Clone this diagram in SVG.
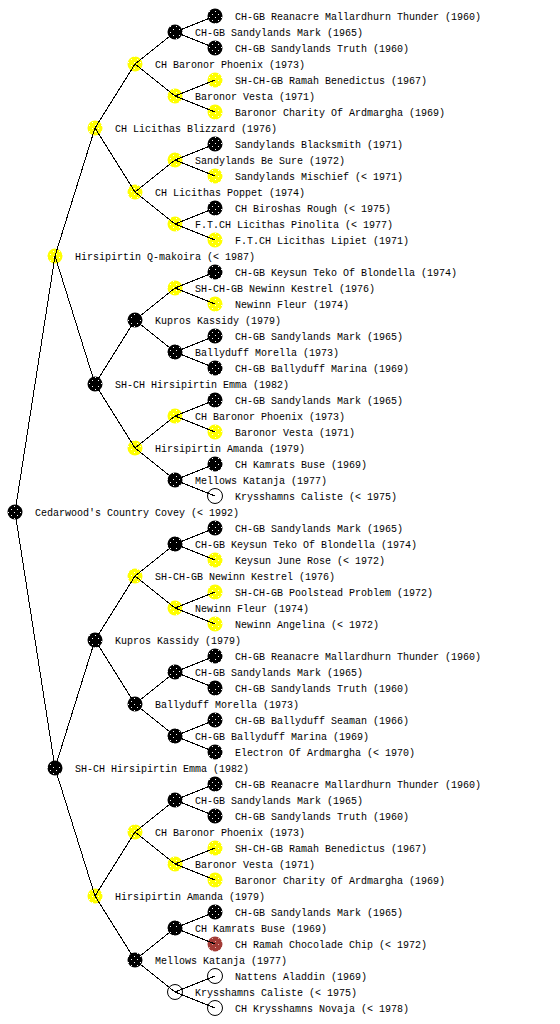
<svg xmlns="http://www.w3.org/2000/svg" width="560" height="1024" viewBox="0 0 560 1024">
<style>
text{font-family:"Liberation Mono","DejaVu Sans Mono",monospace;font-size:10px;fill:#000}
.b{fill:url(#pb)}
.y{fill:url(#py)}
.r{fill:url(#pr)}
.w{fill:#fff;stroke:#000;stroke-width:1}
#connectors path{fill:none;stroke:#000;stroke-width:1;shape-rendering:crispEdges}
</style>
<defs>
<pattern id="pb" patternUnits="userSpaceOnUse" width="6" height="6"><rect width="6" height="6" fill="#000"/><rect x="2" y="2" width="1" height="1" fill="#fff"/><rect x="5" y="5" width="1" height="1" fill="#fff"/></pattern>
<pattern id="py" patternUnits="userSpaceOnUse" width="6" height="6"><rect width="6" height="6" fill="#ff0"/><rect x="2" y="2" width="1" height="1" fill="#fff"/><rect x="5" y="5" width="1" height="1" fill="#fff"/></pattern>
<pattern id="pr" patternUnits="userSpaceOnUse" width="6" height="6"><rect width="6" height="6" fill="#a33b36"/><rect x="2" y="2" width="1" height="1" fill="#e0b0a8"/><rect x="5" y="5" width="1" height="1" fill="#e0b0a8"/></pattern>
</defs>
<rect width="560" height="1024" fill="#fff"/>
<g id="nodes">
<g id="n0"><circle class="b" cx="15" cy="512" r="7.5"/><text x="35" y="516">Cedarwood's Country Covey (&lt; 1992)</text></g>
<g id="n1"><circle class="y" cx="55" cy="256" r="7.5"/><text x="75" y="260">Hirsipirtin Q-makoira (&lt; 1987)</text></g>
<g id="n2"><circle class="y" cx="95" cy="128" r="7.5"/><text x="115" y="132">CH Licithas Blizzard (1976)</text></g>
<g id="n3"><circle class="y" cx="135" cy="64" r="7.5"/><text x="155" y="68">CH Baronor Phoenix (1973)</text></g>
<g id="n4"><circle class="b" cx="175" cy="32" r="7.5"/><text x="195" y="36">CH-GB Sandylands Mark (1965)</text></g>
<g id="n5"><circle class="b" cx="215" cy="16" r="7.5"/><text x="235" y="20">CH-GB Reanacre Mallardhurn Thunder (1960)</text></g>
<g id="n6"><circle class="b" cx="215" cy="48" r="7.5"/><text x="235" y="52">CH-GB Sandylands Truth (1960)</text></g>
<g id="n7"><circle class="y" cx="175" cy="96" r="7.5"/><text x="195" y="100">Baronor Vesta (1971)</text></g>
<g id="n8"><circle class="y" cx="215" cy="80" r="7.5"/><text x="235" y="84">SH-CH-GB Ramah Benedictus (1967)</text></g>
<g id="n9"><circle class="y" cx="215" cy="112" r="7.5"/><text x="235" y="116">Baronor Charity Of Ardmargha (1969)</text></g>
<g id="n10"><circle class="y" cx="135" cy="192" r="7.5"/><text x="155" y="196">CH Licithas Poppet (1974)</text></g>
<g id="n11"><circle class="y" cx="175" cy="160" r="7.5"/><text x="195" y="164">Sandylands Be Sure (1972)</text></g>
<g id="n12"><circle class="b" cx="215" cy="144" r="7.5"/><text x="235" y="148">Sandylands Blacksmith (1971)</text></g>
<g id="n13"><circle class="y" cx="215" cy="176" r="7.5"/><text x="235" y="180">Sandylands Mischief (&lt; 1971)</text></g>
<g id="n14"><circle class="y" cx="175" cy="224" r="7.5"/><text x="195" y="228">F.T.CH Licithas Pinolita (&lt; 1977)</text></g>
<g id="n15"><circle class="b" cx="215" cy="208" r="7.5"/><text x="235" y="212">CH Biroshas Rough (&lt; 1975)</text></g>
<g id="n16"><circle class="y" cx="215" cy="240" r="7.5"/><text x="235" y="244">F.T.CH Licithas Lipiet (1971)</text></g>
<g id="n17"><circle class="b" cx="95" cy="384" r="7.5"/><text x="115" y="388">SH-CH Hirsipirtin Emma (1982)</text></g>
<g id="n18"><circle class="b" cx="135" cy="320" r="7.5"/><text x="155" y="324">Kupros Kassidy (1979)</text></g>
<g id="n19"><circle class="y" cx="175" cy="288" r="7.5"/><text x="195" y="292">SH-CH-GB Newinn Kestrel (1976)</text></g>
<g id="n20"><circle class="b" cx="215" cy="272" r="7.5"/><text x="235" y="276">CH-GB Keysun Teko Of Blondella (1974)</text></g>
<g id="n21"><circle class="y" cx="215" cy="304" r="7.5"/><text x="235" y="308">Newinn Fleur (1974)</text></g>
<g id="n22"><circle class="b" cx="175" cy="352" r="7.5"/><text x="195" y="356">Ballyduff Morella (1973)</text></g>
<g id="n23"><circle class="b" cx="215" cy="336" r="7.5"/><text x="235" y="340">CH-GB Sandylands Mark (1965)</text></g>
<g id="n24"><circle class="b" cx="215" cy="368" r="7.5"/><text x="235" y="372">CH-GB Ballyduff Marina (1969)</text></g>
<g id="n25"><circle class="y" cx="135" cy="448" r="7.5"/><text x="155" y="452">Hirsipirtin Amanda (1979)</text></g>
<g id="n26"><circle class="y" cx="175" cy="416" r="7.5"/><text x="195" y="420">CH Baronor Phoenix (1973)</text></g>
<g id="n27"><circle class="b" cx="215" cy="400" r="7.5"/><text x="235" y="404">CH-GB Sandylands Mark (1965)</text></g>
<g id="n28"><circle class="y" cx="215" cy="432" r="7.5"/><text x="235" y="436">Baronor Vesta (1971)</text></g>
<g id="n29"><circle class="b" cx="175" cy="480" r="7.5"/><text x="195" y="484">Mellows Katanja (1977)</text></g>
<g id="n30"><circle class="b" cx="215" cy="464" r="7.5"/><text x="235" y="468">CH Kamrats Buse (1969)</text></g>
<g id="n31"><circle class="w" cx="215" cy="496" r="7.5"/><text x="235" y="500">Krysshamns Caliste (&lt; 1975)</text></g>
<g id="n32"><circle class="b" cx="55" cy="768" r="7.5"/><text x="75" y="772">SH-CH Hirsipirtin Emma (1982)</text></g>
<g id="n33"><circle class="b" cx="95" cy="640" r="7.5"/><text x="115" y="644">Kupros Kassidy (1979)</text></g>
<g id="n34"><circle class="y" cx="135" cy="576" r="7.5"/><text x="155" y="580">SH-CH-GB Newinn Kestrel (1976)</text></g>
<g id="n35"><circle class="b" cx="175" cy="544" r="7.5"/><text x="195" y="548">CH-GB Keysun Teko Of Blondella (1974)</text></g>
<g id="n36"><circle class="b" cx="215" cy="528" r="7.5"/><text x="235" y="532">CH-GB Sandylands Mark (1965)</text></g>
<g id="n37"><circle class="y" cx="215" cy="560" r="7.5"/><text x="235" y="564">Keysun June Rose (&lt; 1972)</text></g>
<g id="n38"><circle class="y" cx="175" cy="608" r="7.5"/><text x="195" y="612">Newinn Fleur (1974)</text></g>
<g id="n39"><circle class="y" cx="215" cy="592" r="7.5"/><text x="235" y="596">SH-CH-GB Poolstead Problem (1972)</text></g>
<g id="n40"><circle class="y" cx="215" cy="624" r="7.5"/><text x="235" y="628">Newinn Angelina (&lt; 1972)</text></g>
<g id="n41"><circle class="b" cx="135" cy="704" r="7.5"/><text x="155" y="708">Ballyduff Morella (1973)</text></g>
<g id="n42"><circle class="b" cx="175" cy="672" r="7.5"/><text x="195" y="676">CH-GB Sandylands Mark (1965)</text></g>
<g id="n43"><circle class="b" cx="215" cy="656" r="7.5"/><text x="235" y="660">CH-GB Reanacre Mallardhurn Thunder (1960)</text></g>
<g id="n44"><circle class="b" cx="215" cy="688" r="7.5"/><text x="235" y="692">CH-GB Sandylands Truth (1960)</text></g>
<g id="n45"><circle class="b" cx="175" cy="736" r="7.5"/><text x="195" y="740">CH-GB Ballyduff Marina (1969)</text></g>
<g id="n46"><circle class="b" cx="215" cy="720" r="7.5"/><text x="235" y="724">CH-GB Ballyduff Seaman (1966)</text></g>
<g id="n47"><circle class="b" cx="215" cy="752" r="7.5"/><text x="235" y="756">Electron Of Ardmargha (&lt; 1970)</text></g>
<g id="n48"><circle class="y" cx="95" cy="896" r="7.5"/><text x="115" y="900">Hirsipirtin Amanda (1979)</text></g>
<g id="n49"><circle class="y" cx="135" cy="832" r="7.5"/><text x="155" y="836">CH Baronor Phoenix (1973)</text></g>
<g id="n50"><circle class="b" cx="175" cy="800" r="7.5"/><text x="195" y="804">CH-GB Sandylands Mark (1965)</text></g>
<g id="n51"><circle class="b" cx="215" cy="784" r="7.5"/><text x="235" y="788">CH-GB Reanacre Mallardhurn Thunder (1960)</text></g>
<g id="n52"><circle class="b" cx="215" cy="816" r="7.5"/><text x="235" y="820">CH-GB Sandylands Truth (1960)</text></g>
<g id="n53"><circle class="y" cx="175" cy="864" r="7.5"/><text x="195" y="868">Baronor Vesta (1971)</text></g>
<g id="n54"><circle class="y" cx="215" cy="848" r="7.5"/><text x="235" y="852">SH-CH-GB Ramah Benedictus (1967)</text></g>
<g id="n55"><circle class="y" cx="215" cy="880" r="7.5"/><text x="235" y="884">Baronor Charity Of Ardmargha (1969)</text></g>
<g id="n56"><circle class="b" cx="135" cy="960" r="7.5"/><text x="155" y="964">Mellows Katanja (1977)</text></g>
<g id="n57"><circle class="b" cx="175" cy="928" r="7.5"/><text x="195" y="932">CH Kamrats Buse (1969)</text></g>
<g id="n58"><circle class="b" cx="215" cy="912" r="7.5"/><text x="235" y="916">CH-GB Sandylands Mark (1965)</text></g>
<g id="n59"><circle class="r" cx="215" cy="944" r="7.5"/><text x="235" y="948">CH Ramah Chocolade Chip (&lt; 1972)</text></g>
<g id="n60"><circle class="w" cx="175" cy="992" r="7.5"/><text x="195" y="996">Krysshamns Caliste (&lt; 1975)</text></g>
<g id="n61"><circle class="w" cx="215" cy="976" r="7.5"/><text x="235" y="980">Nattens Aladdin (1969)</text></g>
<g id="n62"><circle class="w" cx="215" cy="1008" r="7.5"/><text x="235" y="1012">CH Krysshamns Novaja (&lt; 1978)</text></g>
</g>
<g id="connectors">
<path d="M55 256L15 512L55 768"/>
<path d="M95 128L55 256L95 384"/>
<path d="M95 640L55 768L95 896"/>
<path d="M135 64L95 128L135 192"/>
<path d="M135 320L95 384L135 448"/>
<path d="M135 576L95 640L135 704"/>
<path d="M135 832L95 896L135 960"/>
<path d="M175 32L135 64L175 96"/>
<path d="M175 160L135 192L175 224"/>
<path d="M175 288L135 320L175 352"/>
<path d="M175 416L135 448L175 480"/>
<path d="M175 544L135 576L175 608"/>
<path d="M175 672L135 704L175 736"/>
<path d="M175 800L135 832L175 864"/>
<path d="M175 928L135 960L175 992"/>
<path d="M215 16L175 32L215 48"/>
<path d="M215 80L175 96L215 112"/>
<path d="M215 144L175 160L215 176"/>
<path d="M215 208L175 224L215 240"/>
<path d="M215 272L175 288L215 304"/>
<path d="M215 336L175 352L215 368"/>
<path d="M215 400L175 416L215 432"/>
<path d="M215 464L175 480L215 496"/>
<path d="M215 528L175 544L215 560"/>
<path d="M215 592L175 608L215 624"/>
<path d="M215 656L175 672L215 688"/>
<path d="M215 720L175 736L215 752"/>
<path d="M215 784L175 800L215 816"/>
<path d="M215 848L175 864L215 880"/>
<path d="M215 912L175 928L215 944"/>
<path d="M215 976L175 992L215 1008"/>
</g>
</svg>
